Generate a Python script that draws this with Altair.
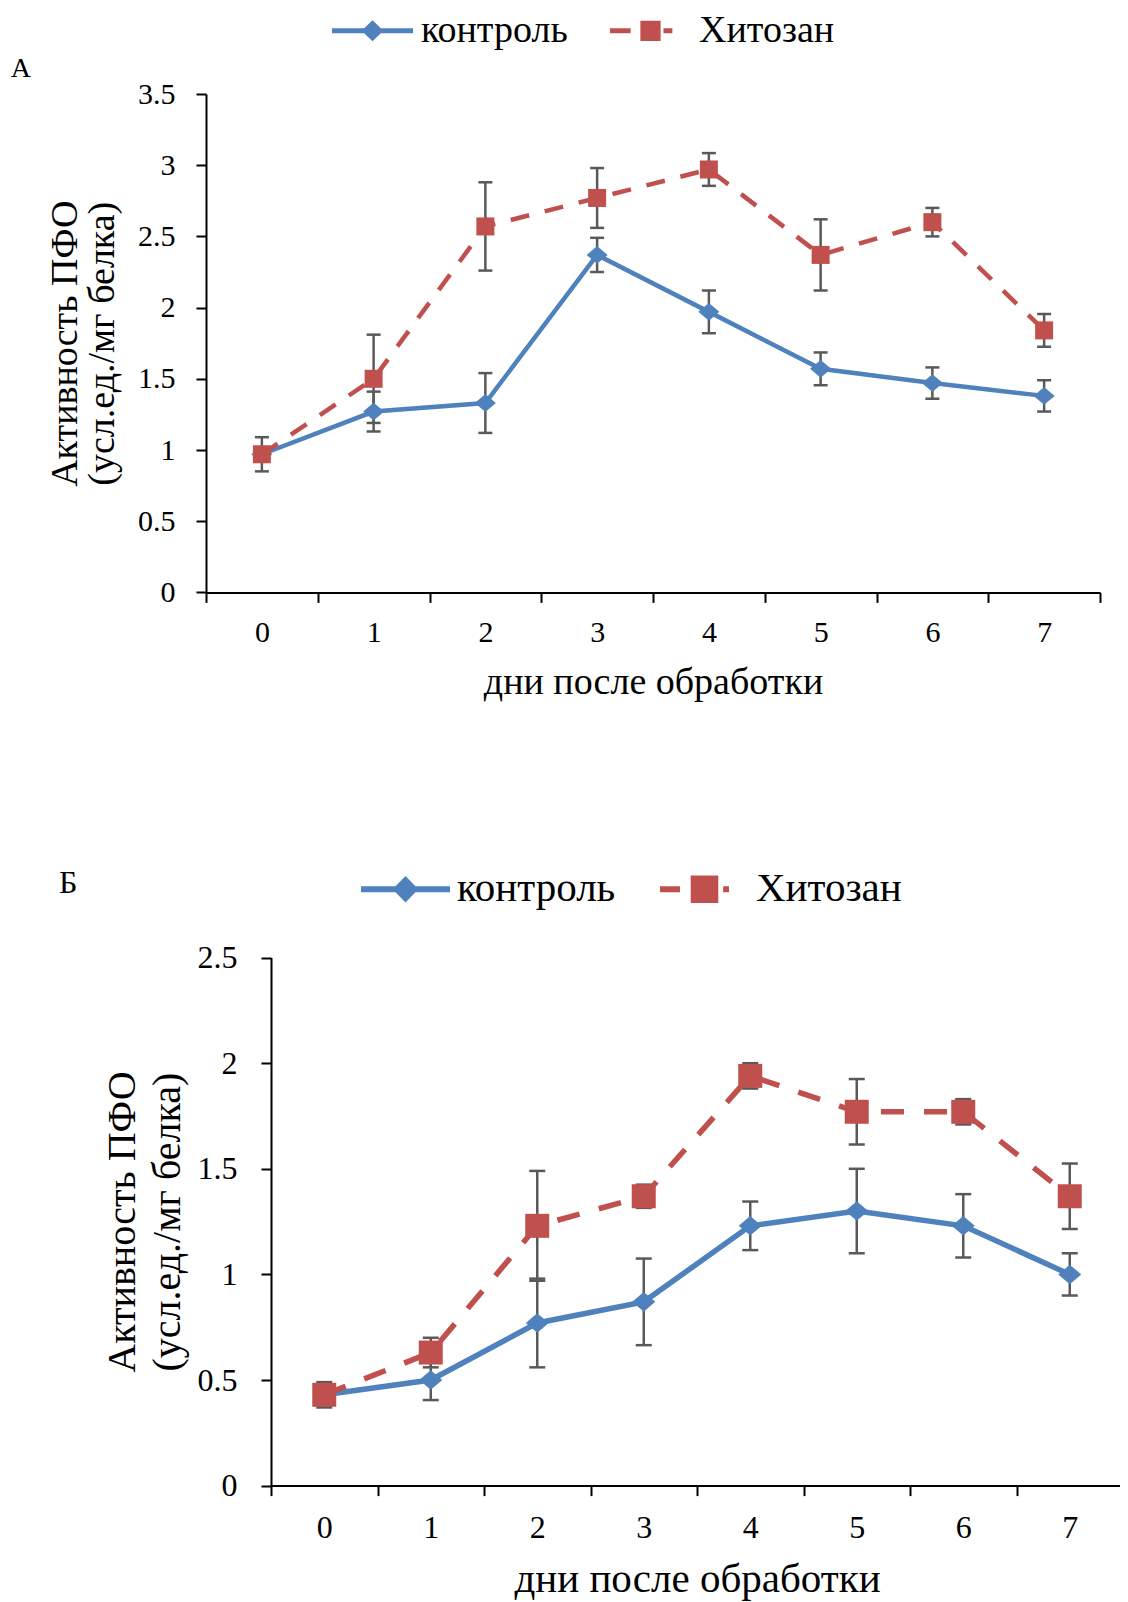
import altair as alt
import pandas as pd

# ---------------- data ----------------
days = [0, 1, 2, 3, 4, 5, 6, 7]
series_names = ["контроль", "Хитозан"]

a_ctrl = [0.97, 1.27, 1.33, 2.37, 1.97, 1.57, 1.47, 1.38]
a_ctrl_err = [0.12, 0.14, 0.21, 0.12, 0.15, 0.115, 0.11, 0.11]
a_chit = [0.97, 1.50, 2.57, 2.77, 2.97, 2.37, 2.60, 1.84]
a_chit_err = [0.05, 0.31, 0.31, 0.21, 0.115, 0.25, 0.10, 0.115]

b_ctrl = [0.43, 0.50, 0.77, 0.87, 1.23, 1.30, 1.23, 1.00]
b_ctrl_err = [0.05, 0.095, 0.21, 0.205, 0.115, 0.20, 0.15, 0.10]
b_chit = [0.43, 0.63, 1.23, 1.37, 1.94, 1.77, 1.77, 1.37]
b_chit_err = [0.06, 0.07, 0.26, 0.055, 0.06, 0.155, 0.06, 0.155]

a_yticks = [0, 0.5, 1, 1.5, 2, 2.5, 3, 3.5]
b_yticks = [0, 0.5, 1, 1.5, 2, 2.5]
panel_labels = ["А", "Б"]
x_title = "дни после обработки"
y_title = ["Активность ПФО", "(усл.ед./мг белка)"]

# ---------------- style ----------------
FONT = "Liberation Serif"
BLUE = "#4F81BD"
RED = "#C0504D"
ERR = "#595959"
W, H = 1112, 1594

DIAMOND = "M-1,0L0,-0.85L1,0L0,0.85Z"


def series_df(vals, errs, name):
    return pd.DataFrame({
        "day": days,
        "series": name,
        "value": vals,
        "lo": [v - e for v, e in zip(vals, errs)],
        "hi": [v + e for v, e in zip(vals, errs)],
    })


def panel(ctrl, ctrl_err, chit, chit_err, yticks, c):
    d_ctrl = series_df(ctrl, ctrl_err, series_names[0])
    d_chit = series_df(chit, chit_err, series_names[1])
    d_all = pd.concat([d_ctrl, d_chit], ignore_index=True)

    xscale = alt.Scale(type="band", range=c["xr"], paddingInner=0, paddingOuter=0)
    yscale = alt.Scale(domain=[yticks[0], yticks[-1]], range=c["yr"], nice=False, zero=False)

    x_axis = alt.Axis(
        orient="bottom", offset=c["xoff"], tickBand="extent", labelAngle=0,
        labelFont=FONT, labelFontSize=c["lfs"], labelColor="black",
        labelPadding=c["xlp"], tickSize=10, tickWidth=2, tickColor="black",
        domainColor="black", domainWidth=2, grid=False,
        title=x_title, titleFont=FONT, titleFontSize=c["xtfs"],
        titleFontWeight="normal", titleColor="black", titlePadding=c["xtp"],
    )
    y_axis = alt.Axis(
        orient="left", offset=c["yoff"], values=yticks, format="~g",
        labelFont=FONT, labelFontSize=c["lfs"], labelColor="black",
        labelPadding=c["ylp"], tickSize=10, tickWidth=2, tickColor="black",
        domainColor="black", domainWidth=2, grid=False,
        title=y_title, titleFont=FONT, titleFontSize=c["ytfs"],
        titleFontWeight="normal", titleColor="black", titlePadding=c["ytp"],
        titleLineHeight=c["ytlh"],
    )

    X = alt.X("day:O", scale=xscale, axis=x_axis)
    Y = alt.Y("value:Q", scale=yscale, axis=y_axis)
    Ylo = alt.Y("lo:Q", scale=yscale, axis=y_axis)
    Yhi = alt.Y("hi:Q", scale=yscale, axis=y_axis)

    line_ctrl = alt.Chart(d_ctrl).mark_line(
        color=BLUE, strokeWidth=c["lw"]).encode(x=X, y=Y)
    line_chit = alt.Chart(d_chit).mark_line(
        color=RED, strokeWidth=c["lw"], strokeDash=c["dash"]).encode(x=X, y=Y)

    err = alt.Chart(d_all).mark_rule(color=ERR, strokeWidth=2.5).encode(
        x=X, y=Ylo, y2="hi:Q")
    cap_lo = alt.Chart(d_all).mark_tick(
        color=ERR, thickness=2.5, orient="horizontal", opacity=1).encode(
        x=X, y=Ylo, size=alt.value(c["cap"]))
    cap_hi = alt.Chart(d_all).mark_tick(
        color=ERR, thickness=2.5, orient="horizontal", opacity=1).encode(
        x=X, y=Yhi, size=alt.value(c["cap"]))

    pts_ctrl = alt.Chart(d_ctrl).mark_point(
        shape=DIAMOND, filled=True, color=BLUE, size=c["dsize"], opacity=1
    ).encode(x=X, y=Y)
    pts_chit = alt.Chart(d_chit).mark_point(
        shape="square", filled=True, color=RED, size=c["ssize"], opacity=1
    ).encode(x=X, y=Y)

    leg = alt.Legend(
        title=None, orient="none", legendX=c["legx"], legendY=c["legy"],
        direction="horizontal", symbolSize=c["symsize"], symbolOpacity=1,
        symbolStrokeWidth=0, labelFont=FONT, labelFontSize=c["legfs"],
        labelColor="black", labelOffset=c["legoff"], columnPadding=c["legcol"],
        padding=0, rowPadding=0, labelLimit=500,
    )
    legend_layer = alt.Chart(d_all).mark_point(filled=True, opacity=0).encode(
        x=X, y=Y,
        color=alt.Color("series:N", scale=alt.Scale(domain=series_names, range=[BLUE, RED]), legend=leg),
        shape=alt.Shape("series:N", scale=alt.Scale(domain=series_names, range=c["legpaths"]), legend=leg),
    )

    return alt.layer(line_ctrl, line_chit, err, cap_lo, cap_hi, pts_ctrl, pts_chit, legend_layer)


cfg_a = dict(
    xr=[198, 1092], yr=[584.4, 86], xoff=584.4 - H, yoff=-198,
    lfs=30, xlp=15.5, ylp=21, xtfs=38, xtp=15.6, ytfs=38, ytp=16.5, ytlh=37,
    lw=4.5, dash=[19, 16], cap=14, dsize=441, ssize=324,
    legx=324, legy=-18, symsize=6561, legfs=38, legoff=8, legcol=42,
    legpaths=[
        "M-1,-0.06L1,-0.06L1,0.06L-1,0.06Z M-0.27,0L0,-0.26L0.27,0L0,0.26Z",
        "M-1,-0.06L-0.49,-0.06L-0.49,0.06L-1,0.06Z M-0.25,-0.25L0.25,-0.25L0.25,0.25L-0.25,0.25Z M0.32,-0.06L0.54,-0.06L0.54,0.06L0.32,0.06Z",
    ],
)
cfg_b = dict(
    xr=[263, 1115], yr=[1477.6, 949.6], xoff=1477.6 - H, yoff=-263,
    lfs=32, xlp=16.4, ylp=24, xtfs=41, xtp=16.6, ytfs=40, ytp=10, ytlh=45,
    lw=5.5, dash=[23, 20], cap=16, dsize=529, ssize=576,
    legx=353, legy=836.5, symsize=7921, legfs=41, legoff=7, legcol=44,
    legpaths=[
        "M-1,-0.065L1,-0.065L1,0.065L-1,0.065Z M-0.29,0L0,-0.3L0.29,0L0,0.3Z",
        "M-1,-0.065L-0.55,-0.065L-0.55,0.065L-1,0.065Z M-0.31,-0.31L0.31,-0.31L0.31,0.31L-0.31,0.31Z M0.42,-0.065L0.55,-0.065L0.55,0.065L0.42,0.065Z",
    ],
)

pA = panel(a_ctrl, a_ctrl_err, a_chit, a_chit_err, a_yticks, cfg_a)
pB = panel(b_ctrl, b_ctrl_err, b_chit, b_chit_err, b_yticks, cfg_b)

labA = alt.Chart(pd.DataFrame({"t": [panel_labels[0]]})).mark_text(
    align="left", baseline="alphabetic", font=FONT, fontSize=28, color="black"
).encode(x=alt.value(2.8), y=alt.value(69.3), text="t:N")
labB = alt.Chart(pd.DataFrame({"t": [panel_labels[1]]})).mark_text(
    align="left", baseline="alphabetic", font=FONT, fontSize=32, color="black"
).encode(x=alt.value(51), y=alt.value(885.3), text="t:N")

chart = alt.layer(pA, pB, labA, labB).resolve_scale(
    x="independent", y="independent", color="independent", shape="independent"
).resolve_axis(
    x="independent", y="independent"
).resolve_legend(
    color="independent", shape="independent"
).properties(
    width=W, height=H, autosize=alt.AutoSizeParams(type="none"), padding=0
).configure_view(stroke=None)

chart.save("out.html", embed_options={"renderer": "svg", "actions": False})
